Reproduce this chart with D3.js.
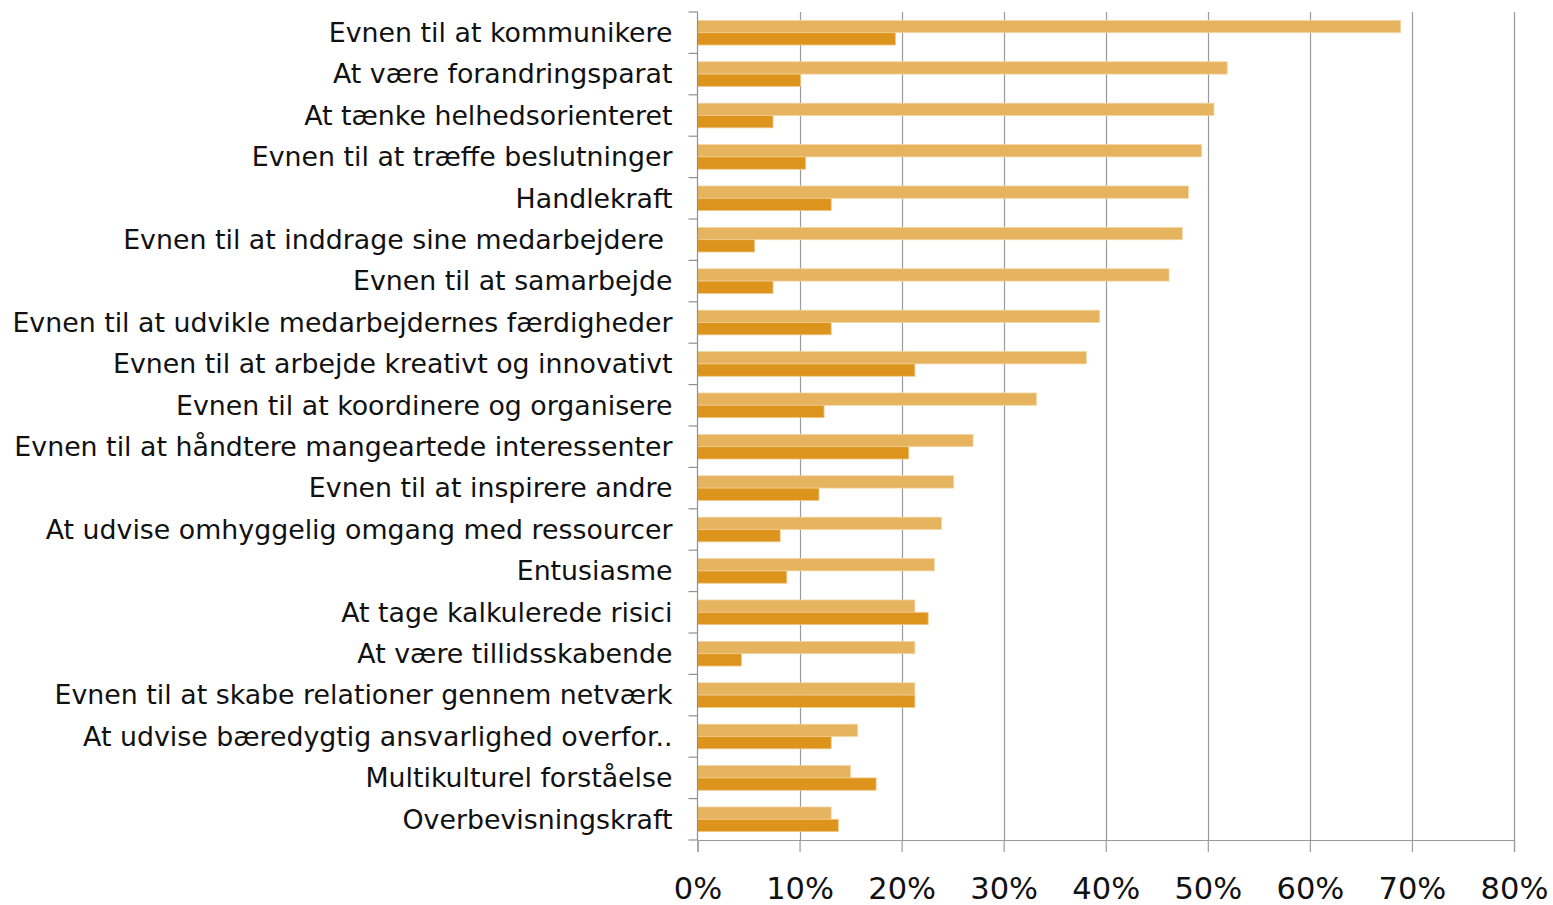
<!DOCTYPE html>
<html>
<head>
<meta charset="utf-8">
<script src="https://cdn.jsdelivr.net/npm/d3@7"></script>
<style>
  body { margin: 0; background: #fff; }
  svg { display: block; }
</style>
</head>
<body>
<svg></svg>
<script>
// categories top to bottom
let categories = [
  "Evnen til at kommunikere",
  "At være forandringsparat",
  "At tænke helhedsorienteret",
  "Evnen til at træffe beslutninger",
  "Handlekraft",
  "Evnen til at inddrage sine medarbejdere ",
  "Evnen til at samarbejde",
  "Evnen til at udvikle medarbejdernes færdigheder",
  "Evnen til at arbejde kreativt og innovativt",
  "Evnen til at koordinere og organisere",
  "Evnen til at håndtere mangeartede interessenter",
  "Evnen til at inspirere andre",
  "At udvise omhyggelig omgang med ressourcer",
  "Entusiasme",
  "At tage kalkulerede risici",
  "At være tillidsskabende",
  "Evnen til at skabe relationer gennem netværk",
  "At udvise bæredygtig ansvarlighed overfor..",
  "Multikulturel forståelse",
  "Overbevisningskraft"
];

// light series (upper bar)
let seriesA = [68.9, 51.9, 50.6, 49.4, 48.1, 47.5, 46.2, 39.4, 38.1, 33.2,
               27.0, 25.1, 23.9, 23.2, 21.3, 21.3, 21.3, 15.7, 15.0, 13.1];
// dark series (lower bar)
let seriesB = [19.4, 10.1, 7.4, 10.6, 13.1, 5.6, 7.4, 13.1, 21.3, 12.4,
               20.7, 11.9, 8.1, 8.75, 22.6, 4.3, 21.3, 13.1, 17.5, 13.8];

let xTicks = [0, 10, 20, 30, 40, 50, 60, 70, 80];

let width = 1553, height = 905;
let plotLeft = 697.5, plotRight = 1514, plotTop = 12, plotBottom = 840;

let svg = d3.select("svg")
  .attr("width", width)
  .attr("height", height);

let x = d3.scaleLinear().domain([0, 80]).range([plotLeft, plotRight]);

let y = d3.scaleBand()
  .domain(categories)
  .range([plotTop, plotBottom])
  .padding(0);

let inner = d3.scaleBand()
  .domain(["a", "b"])
  .range([0, y.bandwidth()])
  .paddingInner(0)
  .paddingOuter(0.68);

let rows = categories.map((c, i) => ({ name: c, a: seriesA[i], b: seriesB[i] }));

// gridlines
svg.append("g")
  .selectAll("line")
  .data(xTicks.slice(1))
  .join("line")
  .attr("x1", d => Math.round(x(d)) + 0.5)
  .attr("x2", d => Math.round(x(d)) + 0.5)
  .attr("y1", plotTop)
  .attr("y2", plotBottom)
  .attr("stroke", "#9a9a9a")
  .attr("stroke-width", 1.2);

// bars
let groups = svg.append("g")
  .selectAll("g")
  .data(rows)
  .join("g")
  .attr("transform", d => `translate(0,${y(d.name)})`);

groups.append("rect")
  .attr("x", x(0))
  .attr("y", inner("a"))
  .attr("width", d => x(d.a) - x(0))
  .attr("height", inner.bandwidth())
  .attr("fill", "#e6b35f")
  .attr("stroke", "#f2d6a4")
  .attr("stroke-width", 0.8);

groups.append("rect")
  .attr("x", x(0))
  .attr("y", inner("b"))
  .attr("width", d => x(d.b) - x(0))
  .attr("height", inner.bandwidth())
  .attr("fill", "#dd941d")
  .attr("stroke", "#efc98a")
  .attr("stroke-width", 0.8);

// left axis line + boundary ticks
svg.append("line")
  .attr("x1", plotLeft).attr("x2", plotLeft)
  .attr("y1", plotTop).attr("y2", plotBottom)
  .attr("stroke", "#8f8f8f").attr("stroke-width", 1.2);

let bounds = categories.map(c => y(c)).concat([plotBottom]);
svg.append("g")
  .selectAll("line")
  .data(bounds)
  .join("line")
  .attr("x1", plotLeft - 9).attr("x2", plotLeft)
  .attr("y1", d => d).attr("y2", d => d)
  .attr("stroke", "#8f8f8f").attr("stroke-width", 1.2);

// bottom axis
let xAxis = svg.append("g")
  .attr("transform", `translate(0,${plotBottom})`)
  .call(d3.axisBottom(x).tickValues(xTicks).tickFormat(d => d + "%").tickSize(12).tickPadding(25));

xAxis.select(".domain").attr("stroke", "#9a9a9a").attr("stroke-width", 1.2);
xAxis.selectAll(".tick line").attr("stroke", "#9a9a9a").attr("stroke-width", 1.2);
xAxis.selectAll("text")
  .attr("font-family", "DejaVu Sans, Verdana, sans-serif")
  .attr("font-size", 30.5)
  .attr("fill", "#111");

// category labels
svg.append("g")
  .selectAll("text")
  .data(categories)
  .join("text")
  .attr("x", plotLeft - 25)
  .attr("y", d => y(d) + y.bandwidth() / 2)
  .attr("dy", "0.35em")
  .attr("text-anchor", "end")
  .attr("font-family", "DejaVu Sans, Verdana, sans-serif")
  .attr("font-size", 26.8)
  .attr("fill", "#111")
  .style("white-space", "pre")
  .text(d => d);
</script>
</body>
</html>
